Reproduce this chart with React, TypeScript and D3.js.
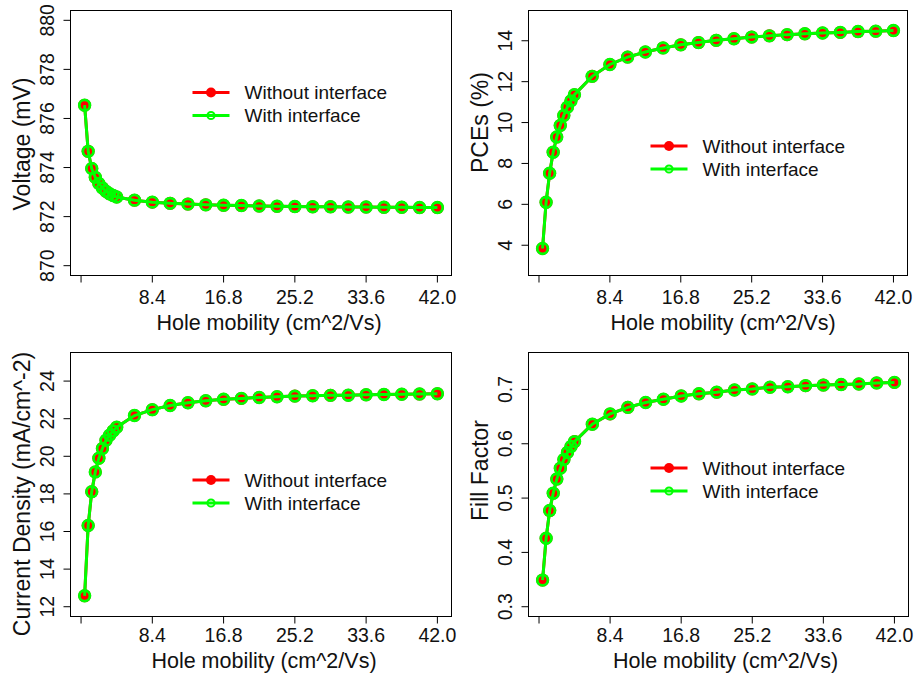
import React from "react";
import * as d3 from "d3";

// Hole mobility (cm^2/Vs) sweep shared by all four panels
const mobility = [
  0.42, 0.84, 1.26, 1.68, 2.1, 2.52, 2.94, 3.36, 3.78, 4.2,
  6.3, 8.4, 10.5, 12.6, 14.7, 16.8, 18.9, 21.0, 23.1, 25.2,
  27.3, 29.4, 31.5, 33.6, 35.7, 37.8, 39.9, 42.0,
];

const xTicks = [0, 8.4, 16.8, 25.2, 33.6, 42.0];
const xTickLabels = ["", "8.4", "16.8", "25.2", "33.6", "42.0"];

// Open-circuit voltage (mV)
const voltageWithout = [
  876.54, 874.66, 873.96, 873.6, 873.35, 873.17, 873.03, 872.93, 872.86, 872.8,
  872.67, 872.59, 872.54, 872.51, 872.48, 872.46, 872.45, 872.43, 872.42, 872.41,
  872.4, 872.4, 872.39, 872.39, 872.38, 872.38, 872.37, 872.37,
];
const voltageWith = [
  876.54, 874.66, 873.96, 873.6, 873.35, 873.17, 873.03, 872.93, 872.86, 872.8,
  872.67, 872.59, 872.54, 872.51, 872.48, 872.46, 872.45, 872.43, 872.42, 872.41,
  872.4, 872.4, 872.39, 872.39, 872.38, 872.38, 872.37, 872.37,
];

// Power conversion efficiency (%)
const pceWithout = [
  3.84, 6.1, 7.52, 8.55, 9.29, 9.86, 10.35, 10.75, 11.06, 11.36,
  12.26, 12.84, 13.2, 13.45, 13.65, 13.8, 13.91, 14.02, 14.1, 14.18,
  14.24, 14.3, 14.34, 14.38, 14.41, 14.45, 14.47, 14.5,
];
const pceWith = [
  3.84, 6.1, 7.52, 8.55, 9.29, 9.86, 10.35, 10.75, 11.06, 11.36,
  12.26, 12.84, 13.2, 13.45, 13.65, 13.8, 13.91, 14.02, 14.1, 14.18,
  14.24, 14.3, 14.34, 14.38, 14.41, 14.45, 14.47, 14.5,
];

// Short-circuit current density (mA/cm^2)
const jscWithout = [
  12.58, 16.32, 18.12, 19.17, 19.9, 20.42, 20.85, 21.12, 21.35, 21.55,
  22.17, 22.48, 22.7, 22.85, 22.95, 23.03, 23.08, 23.13, 23.17, 23.2,
  23.22, 23.24, 23.25, 23.27, 23.29, 23.3, 23.31, 23.33,
];
const jscWith = [
  12.58, 16.32, 18.12, 19.17, 19.9, 20.42, 20.85, 21.12, 21.35, 21.55,
  22.17, 22.48, 22.7, 22.85, 22.95, 23.03, 23.08, 23.13, 23.17, 23.2,
  23.22, 23.24, 23.25, 23.27, 23.29, 23.3, 23.31, 23.33,
];

// Fill factor
const ffWithout = [
  0.349, 0.426, 0.477, 0.509, 0.535, 0.555, 0.571, 0.584, 0.595, 0.604,
  0.636, 0.655, 0.667, 0.676, 0.682, 0.688, 0.692, 0.695, 0.699, 0.701,
  0.704, 0.705, 0.707, 0.708, 0.709, 0.71, 0.712, 0.713,
];
const ffWith = [
  0.349, 0.426, 0.477, 0.509, 0.535, 0.555, 0.571, 0.584, 0.595, 0.604,
  0.636, 0.655, 0.667, 0.676, 0.682, 0.688, 0.692, 0.695, 0.699, 0.701,
  0.704, 0.705, 0.707, 0.708, 0.709, 0.71, 0.712, 0.713,
];

const seriesNames = ["Without interface", "With interface"];
const xTitle = "Hole mobility (cm^2/Vs)";

const RED = "#ff0000";
const GREEN = "#00ff00";
const FONT = "'Liberation Sans', Arial, Helvetica, sans-serif";

type PanelSpec = {
  box: { l: number; r: number; t: number; b: number };
  ylab: string;
  ylim: [number, number];
  yTicks: number[];
  yTickLabels: string[];
  without: number[];
  withIf: number[];
  legend: { dx: number; dy: number };
  ylabShift: number;
  xlabShift: number;
  tickBase: number;
  titleBase: number;
};

const panels: PanelSpec[] = [
  {
    box: { l: 70.5, r: 451.5, t: 10.5, b: 275.5 },
    ylab: "Voltage (mV)",
    ylim: [870, 880],
    yTicks: [870, 872, 874, 876, 878, 880],
    yTickLabels: ["870", "872", "874", "876", "878", "880"],
    without: voltageWithout,
    withIf: voltageWith,
    legend: { dx: 122, dy: 82 },
    ylabShift: 1,
    xlabShift: 8,
    tickBase: 304,
    titleBase: 330,
  },
  {
    box: { l: 528.5, r: 907.5, t: 10.5, b: 275.5 },
    ylab: "PCEs (%)",
    ylim: [3, 15],
    yTicks: [4, 6, 8, 10, 12, 14],
    yTickLabels: ["4", "6", "8", "10", "12", "14"],
    without: pceWithout,
    withIf: pceWith,
    legend: { dx: 122, dy: 135.5 },
    ylabShift: -20.5,
    xlabShift: 5,
    tickBase: 304,
    titleBase: 330,
  },
  {
    box: { l: 70.5, r: 451.5, t: 352.5, b: 616.5 },
    ylab: "Current Density (mA/cm^-2)",
    ylim: [12, 25],
    yTicks: [12, 14, 16, 18, 20, 22, 24],
    yTickLabels: ["12", "14", "16", "18", "20", "22", "24"],
    without: jscWithout,
    withIf: jscWith,
    legend: { dx: 122, dy: 127.5 },
    ylabShift: 9.5,
    xlabShift: 3,
    tickBase: 642,
    titleBase: 668,
  },
  {
    box: { l: 528.5, r: 908.5, t: 352.5, b: 616.5 },
    ylab: "Fill Factor",
    ylim: [0.3, 0.75],
    yTicks: [0.3, 0.4, 0.5, 0.6, 0.7],
    yTickLabels: ["0.3", "0.4", "0.5", "0.6", "0.7"],
    without: ffWithout,
    withIf: ffWith,
    legend: { dx: 122, dy: 115.5 },
    ylabShift: -14,
    xlabShift: 7,
    tickBase: 642,
    titleBase: 668,
  },
];

// R-style axis range: extend the limits by 4% on each side
function padded(lo: number, hi: number): [number, number] {
  const p = (hi - lo) * 0.04;
  return [lo - p, hi + p];
}

function Panel({ spec }: { spec: PanelSpec }) {
  const { box } = spec;
  const [xmin, xmax] = d3.extent(mobility) as [number, number];
  const x = d3.scaleLinear().domain(padded(xmin, xmax)).range([box.l, box.r]);
  const y = d3.scaleLinear().domain(padded(spec.ylim[0], spec.ylim[1])).range([box.b, box.t]);

  const line = d3
    .line<number>()
    .x((_, i) => x(mobility[i]))
    .y((d) => y(d));

  const tickLen = 7;
  const midX = (box.l + box.r) / 2;
  const midY = (box.t + box.b) / 2;
  const lg = spec.legend;
  const lgX0 = box.l + lg.dx;
  const lgX1 = lgX0 + 37;
  const lgPt = (lgX0 + lgX1) / 2;
  const lgText = lgX0 + 52;
  const rowGap = 23;

  return (
    <g>
      {/* series: without interface (red, filled) */}
      <path d={line(spec.without) ?? ""} fill="none" stroke={RED} strokeWidth={3} />
      {spec.without.map((v, i) => (
        <circle key={`r${i}`} cx={x(mobility[i])} cy={y(v)} r={6.5} fill={RED} />
      ))}
      {/* series: with interface (green, open rings) */}
      <path d={line(spec.withIf) ?? ""} fill="none" stroke={GREEN} strokeWidth={3} />
      {spec.withIf.map((v, i) => (
        <circle
          key={`g${i}`}
          cx={x(mobility[i])}
          cy={y(v)}
          r={5.3}
          fill="none"
          stroke={GREEN}
          strokeWidth={2.8}
        />
      ))}

      {/* plot frame */}
      <rect
        x={box.l}
        y={box.t}
        width={box.r - box.l}
        height={box.b - box.t}
        fill="none"
        stroke="#000"
        strokeWidth={1}
      />

      {/* x axis */}
      {xTicks.map((t, i) => (
        <g key={`xt${i}`}>
          <line x1={x(t)} x2={x(t)} y1={box.b} y2={box.b + tickLen} stroke="#000" />
          <text
            x={x(t)}
            y={spec.tickBase}
            textAnchor="middle"
            fontSize={19.5}
            fontFamily={FONT}
            fill="#111"
          >
            {xTickLabels[i]}
          </text>
        </g>
      ))}
      <text
        x={midX + spec.xlabShift}
        y={spec.titleBase}
        textAnchor="middle"
        fontSize={21.5}
        fontFamily={FONT}
        fill="#111"
      >
        {xTitle}
      </text>

      {/* y axis */}
      {spec.yTicks.map((t, i) => (
        <g key={`yt${i}`}>
          <line x1={box.l - tickLen} x2={box.l} y1={y(t)} y2={y(t)} stroke="#000" />
          <text
            transform={`translate(${box.l - 17},${y(t)}) rotate(-90)`}
            textAnchor="middle"
            fontSize={19.5}
            fontFamily={FONT}
            fill="#111"
          >
            {spec.yTickLabels[i]}
          </text>
        </g>
      ))}
      <text
        transform={`translate(${box.l - 41},${midY + spec.ylabShift}) rotate(-90)`}
        textAnchor="middle"
        fontSize={23}
        fontFamily={FONT}
        fill="#111"
      >
        {spec.ylab}
      </text>

      {/* legend */}
      <g>
        <line x1={lgX0} x2={lgX1} y1={box.t + lg.dy} y2={box.t + lg.dy} stroke={RED} strokeWidth={3} />
        <circle cx={lgPt} cy={box.t + lg.dy} r={5} fill={RED} />
        <text x={lgText} y={box.t + lg.dy + 6.8} fontSize={19} fontFamily={FONT} fill="#111">
          {seriesNames[0]}
        </text>
        <line
          x1={lgX0}
          x2={lgX1}
          y1={box.t + lg.dy + rowGap}
          y2={box.t + lg.dy + rowGap}
          stroke={GREEN}
          strokeWidth={3}
        />
        <circle
          cx={lgPt}
          cy={box.t + lg.dy + rowGap}
          r={3.6}
          fill="none"
          stroke={GREEN}
          strokeWidth={2}
        />
        <text
          x={lgText}
          y={box.t + lg.dy + rowGap + 6.8}
          fontSize={19}
          fontFamily={FONT}
          fill="#111"
        >
          {seriesNames[1]}
        </text>
      </g>
    </g>
  );
}

export default function App() {
  return (
    <svg
      width={917}
      height={679}
      viewBox="0 0 917 679"
      style={{ position: "absolute", left: 0, top: 0, display: "block", background: "#fff" }}
    >
      <rect x={0} y={0} width={917} height={679} fill="#fff" />
      {panels.map((p, i) => (
        <Panel key={i} spec={p} />
      ))}
    </svg>
  );
}
